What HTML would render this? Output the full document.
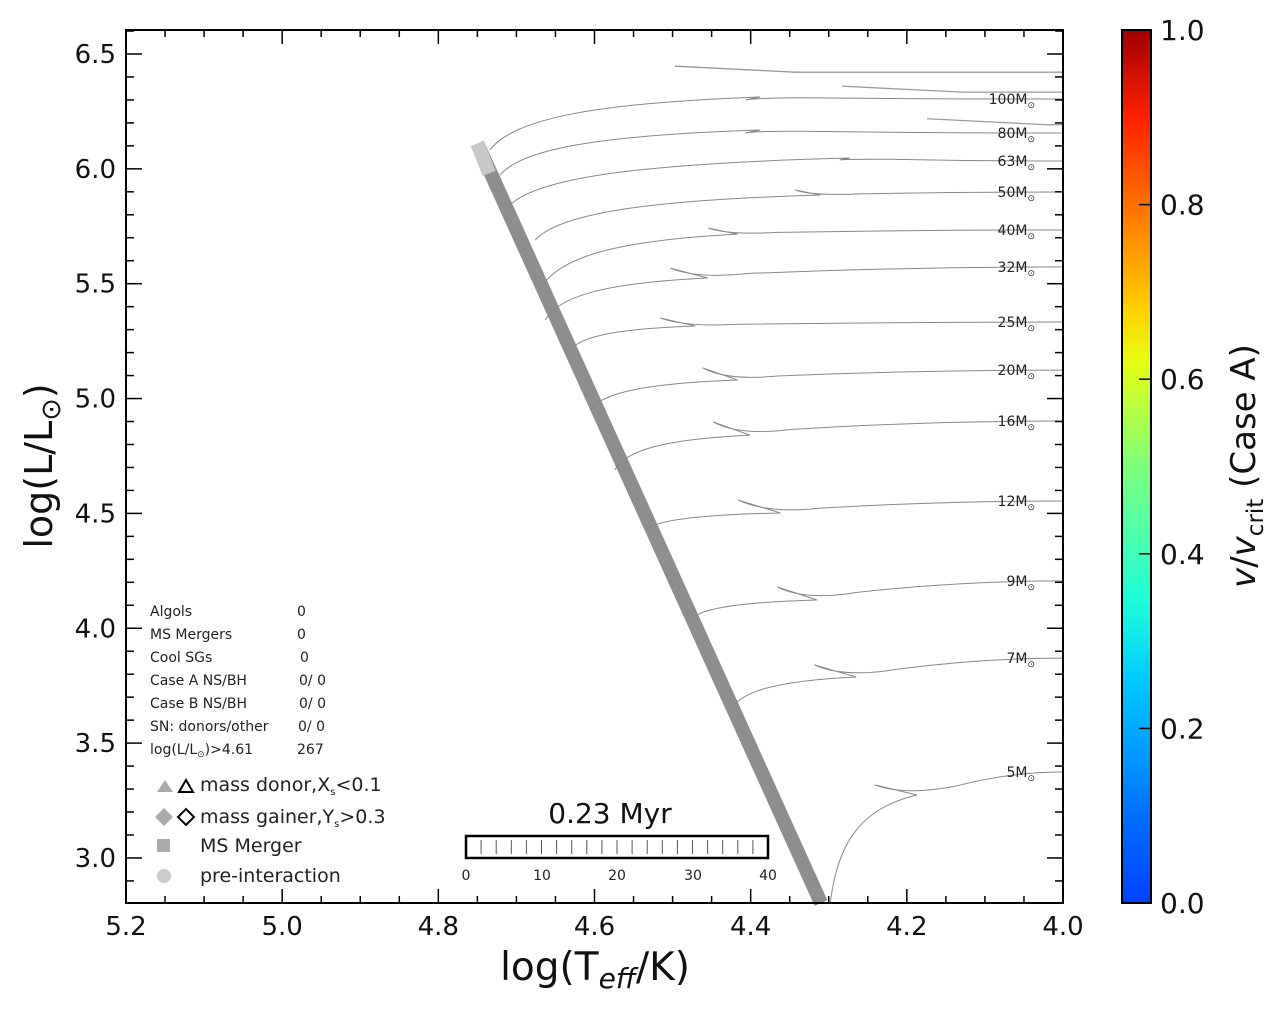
<!DOCTYPE html>
<html><head><meta charset="utf-8"><style>
html,body{margin:0;padding:0;background:#fff;}
svg text{font-family:"DejaVu Sans","Liberation Sans",sans-serif;}
</style></head><body>
<svg id="chart" width="1280" height="1010" viewBox="0 0 1280 1010" xmlns="http://www.w3.org/2000/svg">
<defs>
<linearGradient id="jet" x1="0" y1="1" x2="0" y2="0">
<stop offset="0" stop-color="#0040ff"/><stop offset="0.1" stop-color="#0070ff"/>
<stop offset="0.25" stop-color="#00c8ff"/><stop offset="0.35" stop-color="#20ffd8"/><stop offset="0.5" stop-color="#7dff7a"/>
<stop offset="0.62" stop-color="#e6ff12"/><stop offset="0.68" stop-color="#ffd000"/><stop offset="0.8" stop-color="#ff7000"/><stop offset="0.9" stop-color="#ff2000"/>
<stop offset="1" stop-color="#a00000"/></linearGradient>
</defs>
<g id="tracks"></g>
<g id="axes"></g>
<rect x="126" y="30" width="937" height="873" fill="none" stroke="#000" stroke-width="2"/>

<g font-size="14" fill="#222">
<text x="150" y="616">Algols</text><text x="297" y="616">0</text>
<text x="150" y="639">MS Mergers</text><text x="297" y="639">0</text>
<text x="150" y="662">Cool SGs</text><text x="300" y="662">0</text>
<text x="150" y="685">Case A NS/BH</text><text x="299" y="685">0/ 0</text>
<text x="150" y="708">Case B NS/BH</text><text x="299" y="708">0/ 0</text>
<text x="150" y="731">SN: donors/other</text><text x="298" y="731">0/ 0</text>
<text x="150" y="754">log(L/L<tspan font-size="9" dy="3">⊙</tspan><tspan dy="-3">)&gt;4.61</tspan></text><text x="297" y="754">267</text>
</g>
<g font-size="19" fill="#222">
<polygon points="157,792 165,780 173,792" fill="#aaa"/>
<polygon points="179,792 186,780 193,792" fill="none" stroke="#000" stroke-width="2"/>
<text x="200" y="791">mass donor,X<tspan font-size="10" dy="4">s</tspan><tspan dy="-4">&lt;0.1</tspan></text>
<polygon points="164,808 173,817 164,826 155,817" fill="#aaa"/>
<polygon points="186,809 194,817 186,825 178,817" fill="none" stroke="#000" stroke-width="2"/>
<text x="200" y="823">mass gainer,Y<tspan font-size="10" dy="4">s</tspan><tspan dy="-4">&gt;0.3</tspan></text>
<rect x="157" y="839" width="13" height="13" fill="#aaa"/>
<text x="200" y="852">MS Merger</text>
<circle cx="164" cy="876" r="7" fill="#ccc"/>
<text x="200" y="882">pre-interaction</text>
</g>
<g>
<text x="610" y="823" font-size="28" text-anchor="middle" fill="#111">0.23 Myr</text>
<rect x="466" y="836" width="302" height="22" fill="#fff" stroke="#000" stroke-width="2.5"/>
<g id="tbticks" stroke="#555" stroke-width="1"></g>
<g font-size="14" fill="#222" text-anchor="middle">
<text x="466" y="880">0</text><text x="542" y="880">10</text><text x="617" y="880">20</text><text x="693" y="880">30</text><text x="768" y="880">40</text></g>
</g>
<g>
<rect x="1122" y="30" width="29" height="873" fill="url(#jet)" stroke="#000" stroke-width="2"/>
<g id="cbticks"></g>
<text transform="translate(1255,466) rotate(-90)" font-size="34" text-anchor="middle" fill="#111"><tspan font-style="italic">v</tspan>/<tspan font-style="italic">v</tspan><tspan font-size="23" dy="8">crit</tspan><tspan dy="-8"> (Case A)</tspan></text>
</g>
<text x="595" y="980" font-size="39" text-anchor="middle" fill="#111">log(T<tspan font-size="28" dy="8" font-style="italic">eff</tspan><tspan dy="-8">/K)</tspan></text>
<text transform="translate(52,466) rotate(-90)" font-size="38" text-anchor="middle" fill="#111">log(L/L<tspan font-size="27" dy="8">⊙</tspan><tspan dy="-8">)</tspan></text>
</svg>
<script>
const masses=["100","80","63","50","40","32","25","20","16","12","9","7","5"];
const startT=[4.734,4.721,4.708,4.676,4.670,4.663,4.631,4.606,4.574,4.535,4.478,4.426,4.298];
const startL=[6.082,5.973,5.843,5.690,5.473,5.342,5.211,4.950,4.689,4.428,4.036,3.644,2.804];
const tipT=[4.388,4.388,4.273,4.311,4.417,4.455,4.471,4.417,4.401,4.362,4.315,4.265,4.187];
const tipL=[6.313,6.169,6.047,5.886,5.716,5.525,5.316,5.081,4.841,4.502,4.123,3.788,3.274];
const backT=[4.407,4.407,4.286,4.343,4.454,4.503,4.516,4.461,4.448,4.416,4.366,4.318,4.241];
const backL=[6.300,6.156,6.039,5.908,5.742,5.568,5.351,5.133,4.898,4.558,4.180,3.840,3.318];
const endL=[6.304,6.156,6.034,5.899,5.734,5.573,5.333,5.124,4.902,4.554,4.206,3.870,3.374];
const extraT=[4.497,4.283,4.174];
const extraL=[6.447,6.360,6.218];
const zamsT=[4.750,4.310];
const zamsL=[6.110,2.804];
const xTicks=[5.2,5.0,4.8,4.6,4.4,4.2,4.0];
const yTicks=[3.0,3.5,4.0,4.5,5.0,5.5,6.0,6.5];
const cbTicks=[0.0,0.2,0.4,0.6,0.8,1.0];

const X0=126,X1=1063,Y0=30,Y1=903;
const xs=t=>X0+(5.2-t)/1.2*(X1-X0);
const ys=l=>54+(6.5-l)*229.7;
const cy=v=>Y1-v*(Y1-Y0);
const NS="http://www.w3.org/2000/svg";
function mk(tag,attrs,parent){const e=document.createElementNS(NS,tag);for(const k in attrs)e.setAttribute(k,attrs[k]);parent.appendChild(e);return e;}
const tg=document.getElementById('tracks'), ag=document.getElementById('axes');

for(let i=0;i<extraT.length;i++){
  const x=xs(extraT[i]),y=ys(extraL[i]);
  const p=mk('path',{d:`M${x},${y} Q${x+60},${y+3} ${x+120},${y+6} L${X1},${y+6}`,fill:'none',stroke:'#999','stroke-width':1.3},tg);
  
  
}
const z=mk('line',{x1:xs(zamsT[0]),y1:ys(zamsL[0]),x2:xs(zamsT[1]),y2:ys(zamsL[1]),stroke:'#8e8e8e','stroke-width':14},tg);


const z2=mk('line',{x1:xs(zamsT[0]),y1:ys(zamsL[0]),x2:xs(4.735),y2:ys(5.98),stroke:'#c8c8c8','stroke-width':14},tg);



for(let i=0;i<masses.length;i++){
  const sx=xs(startT[i]),sy=ys(startL[i]),tx=xs(tipT[i]),ty=ys(tipL[i]),bx=xs(backT[i]),by=ys(backL[i]),ey=ys(endL[i]);
  const c1x=sx+(tx-sx)*0.08,c1y=sy+(ty-sy)*0.55,c2x=sx+(tx-sx)*0.35,c2y=ty+(sy-ty)*0.12;
  const jx=tx+40,jy=ty+(ey-ty)*0.4;
  const d=`M${sx},${sy} C${c1x},${c1y} ${c2x},${c2y} ${tx},${ty} L${bx},${by} Q${bx+(tx-bx)*0.7},${ty+1} ${jx},${jy} Q${(jx+X1)/2},${ey} ${X1},${ey}`;
  const p=mk('path',{d:d,fill:'none',stroke:'#888','stroke-width':1},tg);
  
  
  const t=mk('text',{x:1035,y:ey+5,'font-size':14,'text-anchor':'end',fill:'#222'},tg);
  
  
  t.innerHTML=masses[i]+'M<tspan font-size="9" dy="4">⊙</tspan>';
}
for(let v=4.0;v<=5.2001;v+=0.05){
  const x=xs(v),maj=Math.abs(v*5-Math.round(v*5))<1e-6;
  const len=maj?14:7;
  mk('line',{x1:x,y1:Y1,x2:x,y2:Y1-len,stroke:'#000','stroke-width':1.5},ag);
  mk('line',{x1:x,y1:Y0,x2:x,y2:Y0+len,stroke:'#000','stroke-width':1.5},ag);
}
xTicks.forEach(v=>{
  const t=mk('text',{x:xs(v),y:935,'font-size':26,'text-anchor':'middle',fill:'#111'},ag);
  
  
  t.textContent=v.toFixed(1);
});
for(let v=2.9;v<=6.61;v+=0.1){
  const y=ys(v); if(y<Y0||y>Y1)continue;
  const maj=Math.abs(v*2-Math.round(v*2))<1e-6;const len=maj?16:8;
  mk('line',{x1:X0,y1:y,x2:X0+len,y2:y,stroke:'#000','stroke-width':1.5},ag);
  mk('line',{x1:X1,y1:y,x2:X1-len,y2:y,stroke:'#000','stroke-width':1.5},ag);
}
yTicks.forEach(v=>{
  const t=mk('text',{x:116,y:ys(v)+9,'font-size':26,'text-anchor':'end',fill:'#111'},ag);
  
  
  t.textContent=v.toFixed(1);
});
const cb=document.getElementById('cbticks');
cbTicks.forEach(v=>{
  const y=cy(v);
  mk('line',{x1:1139,y1:y,x2:1151,y2:y,stroke:'#000','stroke-width':1.5},cb);
  const t=mk('text',{x:1160,y:y+10,'font-size':28,fill:'#111'},cb);
  
  
  t.textContent=v.toFixed(1);
});
const tb=document.getElementById('tbticks');
for(let i=1;i<20;i++){const x=466+i*302/20;mk('line',{x1:x,y1:840,x2:x,y2:854},tb);}
</script>
</body></html>
